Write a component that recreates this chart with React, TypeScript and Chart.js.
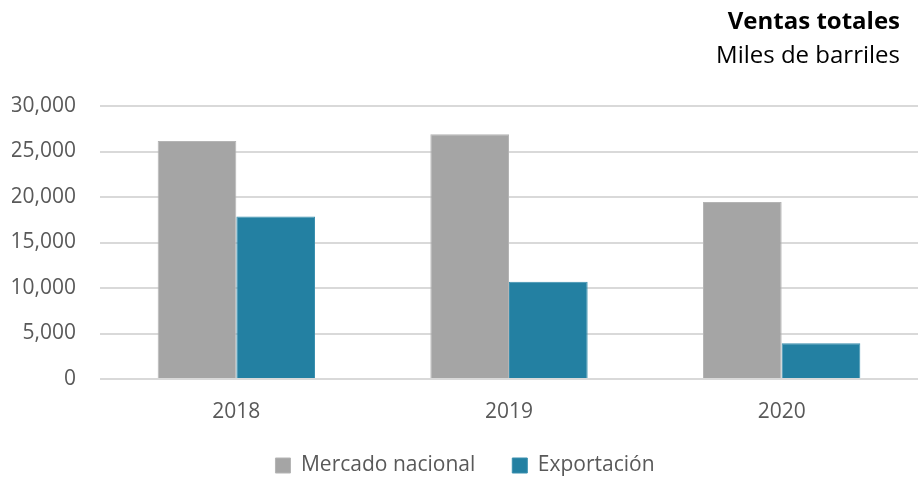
import React, { useEffect, useRef } from "react";
import { Chart, registerables } from "chart.js";

Chart.register(...registerables);

const categories = ["2018", "2019", "2020"];
const mercadoNacional = [26150, 26900, 19450];
const exportacion = [17850, 10700, 3920];
const titleText = "Ventas totales";
const subtitleText = "Miles de barriles";
const FONT = "'Open Sans', Lato, sans-serif";

const titlePlugin = {
  id: "rightTitle",
  afterDraw(chart: any) {
    const ctx = chart.ctx;
    ctx.save();
    ctx.fillStyle = "#000000";
    ctx.textAlign = "right";
    ctx.textBaseline = "alphabetic";
    ctx.font = `bold 24px ${FONT}`;
    ctx.fillText(titleText, chart.width - 18, 29);
    ctx.font = `24px ${FONT}`;
    ctx.fillText(subtitleText, chart.width - 18, 63);
    ctx.restore();
  },
};

export default function App() {
  const ref = useRef<HTMLCanvasElement>(null);
  useEffect(() => {
    document.body.style.margin = "0";
    const chart = new Chart(ref.current!, {
      type: "bar",
      data: {
        labels: categories,
        datasets: [
          {
            label: "Mercado nacional",
            data: mercadoNacional,
            backgroundColor: "#A5A5A5",
            borderColor: "#B4B4B4",
            borderWidth: 1,
          },
          {
            label: "Exportación",
            data: exportacion,
            backgroundColor: "#2380A2",
            borderColor: "#3A8FAE",
            borderWidth: 1,
          },
        ],
      },
      options: {
        animation: false,
        responsive: false,
        layout: { padding: { top: 106, right: 0, left: 12, bottom: -8 } },
        datasets: { bar: { categoryPercentage: 0.577, barPercentage: 1 } },
        plugins: {
          legend: {
            position: "bottom",
            labels: {
              font: { family: FONT, size: 21 },
              color: "#595959",
              boxWidth: 15,
              boxHeight: 15,
              padding: 37,
            },
          },
          title: { display: false },
          tooltip: { enabled: false },
        },
        scales: {
          x: {
            grid: { display: false, drawTicks: false },
            border: { display: false },
            ticks: { font: { family: FONT, size: 21 }, color: "#595959", padding: 20 },
            afterFit: (scale: any) => {
              scale.height = 39;
            },
          },
          y: {
            min: 0,
            max: 30000,
            border: { display: false },
            grid: { color: "#D9D9D9", lineWidth: 2, drawTicks: false },
            ticks: {
              stepSize: 5000,
              padding: 24,
              font: { family: FONT, size: 21 },
              color: "#595959",
              callback: (v: any) => Number(v).toLocaleString("en-US"),
            },
            afterFit: (scale: any) => {
              scale.width = 88;
            },
          },
        },
      },
      plugins: [titlePlugin],
    });
    return () => chart.destroy();
  }, []);
  return <canvas ref={ref} width={918} height={478} style={{ display: "block" }} />;
}
